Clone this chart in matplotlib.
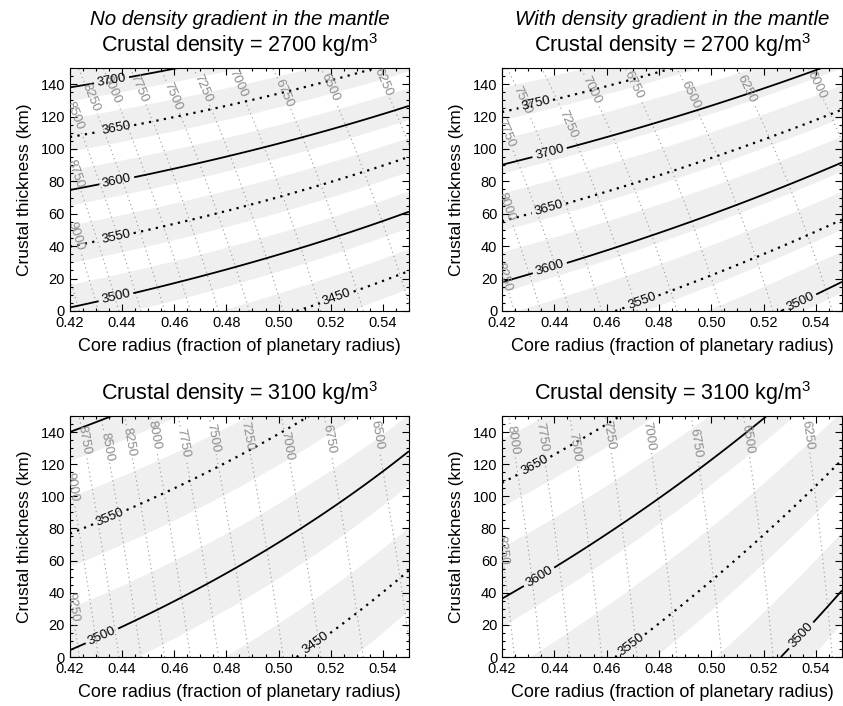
import numpy as np
import matplotlib
matplotlib.use("Agg")
import matplotlib.pyplot as plt
from matplotlib.ticker import MultipleLocator, FormatStrFormatter

plt.rcParams['font.family'] = ['Liberation Sans', 'DejaVu Sans']
plt.rcParams['mathtext.fontset'] = 'custom'
plt.rcParams['mathtext.rm'] = 'Liberation Sans'
plt.rcParams['mathtext.it'] = 'Liberation Sans:italic'

#planet constants (Mars)
planet_radius = 3389.5      # km
mean_density = 3933.0       # kg/m3
moment_factor = 0.3635      # C/MR^2

#one entry per panel: top-left, top-right, bottom-left, bottom-right
crust_density = [2700, 2700, 3100, 3100]
mantle_gradient = [0.0, 0.36, 0.0, 0.36]   # kg/m3 per km of depth
headers = ["No density gradient in the mantle", "With density gradient in the mantle", "", ""]

#contour levels
mantle_levels = [3450, 3500, 3550, 3600, 3650, 3700, 3750]
core_levels = [6000, 6250, 6500, 6750, 7000, 7250, 7500, 7750, 8000, 8250, 8500, 8750, 9000, 9250]

#offset of the white stripes inside every 50 kg/m3 step
stripe_phase = [27, 33, 26, 30]

#labelled contours: level -> spot (core radius, crustal thickness)
mantle_labels = [
    {3700: (0.436, 142), 3650: (0.438, 112), 3600: (0.438, 80), 3550: (0.438, 44),
     3500: (0.438, 6), 3450: (0.522, 10)},
    {3750: (0.433, 127), 3700: (0.438, 99), 3650: (0.438, 63), 3600: (0.438, 28),
     3550: (0.473, 8), 3500: (0.533, 9)},
    {3550: (0.436, 85), 3500: (0.432, 14), 3450: (0.5145, 8)},
    {3650: (0.433, 118), 3600: (0.4345, 49), 3550: (0.469, 8), 3500: (0.532, 17)},
]
core_labels = [
    {8250: (0.4283, 132), 8000: (0.4366, 137), 7750: (0.4462, 137), 7500: (0.4583, 132),
     7250: (0.4704, 137), 7000: (0.4819, 139), 6750: (0.4991, 132), 6500: (0.517, 136),
     6250: (0.5374, 139), 8500: (0.4226, 121), 8750: (0.4232, 85), 9000: (0.4232, 47)},
    {7500: (0.4281, 130), 7750: (0.423, 111), 8000: (0.423, 65), 8250: (0.423, 22),
     7250: (0.4459, 116), 7000: (0.4548, 137), 6750: (0.47, 139), 6500: (0.4903, 132),
     6250: (0.5107, 135), 6000: (0.5367, 137)},
    {8750: (0.4251, 135), 8500: (0.434, 131), 8250: (0.4423, 134), 8000: (0.4519, 138),
     7750: (0.4628, 133), 7500: (0.4736, 136), 7250: (0.4864, 137), 7000: (0.5011, 131),
     6750: (0.5164, 135), 6500: (0.5342, 137), 9000: (0.4219, 106), 9250: (0.4219, 31)},
    {8000: (0.425, 135), 7750: (0.4357, 137), 7500: (0.4484, 131), 7250: (0.4611, 138),
     7000: (0.4751, 137), 6750: (0.4923, 133), 6500: (0.5113, 135), 6250: (0.5335, 137),
     8250: (0.4218, 68)},
]

#axes boxes in figure fraction
boxes = [
    [0.0830, 0.5595, 0.4021, 0.3442],
    [0.5955, 0.5595, 0.4033, 0.3442],
    [0.0830, 0.0694, 0.4021, 0.3414],
    [0.5955, 0.0694, 0.4033, 0.3414],
]


#core density and mean mantle density from mass and moment of inertia
def layer_densities(rc, thick, rho_crust, grad):
    rm = 1 - thick / planet_radius
    g = grad * planet_radius
    vol = rm**3 - rc**3
    w5 = rm**5 - rc**5
    g1 = rm * vol - 0.75 * (rm**4 - rc**4)
    g2 = rm * w5 - (5.0 / 6.0) * (rm**6 - rc**6)
    m1 = mean_density - rho_crust * (1 - rm**3) - g * g1
    m2 = 2.5 * moment_factor * mean_density - rho_crust * (1 - rm**5) - g * g2
    a1 = rc**3
    a2 = rc**5
    det = a1 * w5 - a2 * vol
    rho_core = (m1 * w5 - m2 * vol) / det
    rho_top = (a1 * m2 - a2 * m1) / det
    rho_mantle = rho_top + g * g1 / vol
    return rho_core, rho_mantle


core_radius = np.linspace(0.42, 0.55, 300)
thickness = np.linspace(0, 150, 300)
X, Y = np.meshgrid(core_radius, thickness)

fig = plt.figure(figsize=(8.43, 7.06), dpi=100)

for i in range(4):
    ax = fig.add_axes(boxes[i])
    ax.set_facecolor('#efefef')
    rho_core, rho_mantle = layer_densities(X, Y, crust_density[i], mantle_gradient[i])

    #white stripes
    bounds = []
    for base in range(3250, 4000, 50):
        bounds.append(base + stripe_phase[i] - 9)
        bounds.append(base + stripe_phase[i] + 9)
    colors = ['white' if k % 2 == 0 else '#efefef' for k in range(len(bounds) - 1)]
    ax.contourf(X, Y, rho_mantle, levels=bounds, colors=colors, antialiased=True)

    #core density (gray dotted)
    for level in core_levels:
        cs = ax.contour(X, Y, rho_core, levels=[level], colors='#969696',
                        linewidths=0.8, linestyles=[(0, (1, 3))])
        if level in core_labels[i]:
            ax.clabel(cs, fmt='%d', fontsize=9.5, colors='#8c8c8c', inline=True,
                      inline_spacing=2, manual=[core_labels[i][level]])

    #mantle density (black, solid every 100, dotted in between)
    for level in mantle_levels:
        if level % 100 == 0:
            cs = ax.contour(X, Y, rho_mantle, levels=[level], colors='black', linewidths=1.3)
        else:
            cs = ax.contour(X, Y, rho_mantle, levels=[level], colors='black', linewidths=1.6,
                            linestyles=[(0, (1, 2.4))])
        if level in mantle_labels[i]:
            ax.clabel(cs, fmt='%d', fontsize=9.5, colors='black', inline=True,
                      inline_spacing=3, manual=[mantle_labels[i][level]])

    ax.set_xlim(0.42, 0.55)
    ax.set_ylim(0, 150)
    ax.xaxis.set_major_locator(MultipleLocator(0.02))
    ax.xaxis.set_minor_locator(MultipleLocator(0.005))
    ax.yaxis.set_major_locator(MultipleLocator(20))
    ax.yaxis.set_minor_locator(MultipleLocator(5))
    ax.xaxis.set_major_formatter(FormatStrFormatter('%.2f'))
    ax.tick_params(which='both', direction='in', top=True, right=True, labelsize=10.5, width=0.8)
    ax.tick_params(which='major', length=5)
    ax.tick_params(which='minor', length=2.5)
    ax.set_xlabel("Core radius (fraction of planetary radius)", fontsize=13, labelpad=6)
    ax.set_ylabel("Crustal thickness (km)", fontsize=12.5, labelpad=6)

    ax.text(0.5, 1.095, "Crustal density = %d kg/m$^3$" % crust_density[i], transform=ax.transAxes,
            ha='center', va='center', fontsize=15.5)
    if headers[i]:
        ax.text(0.5, 1.2, headers[i], transform=ax.transAxes, ha='center', va='center',
                fontsize=14.8, style='italic')

fig.savefig('out.png', dpi=100)
